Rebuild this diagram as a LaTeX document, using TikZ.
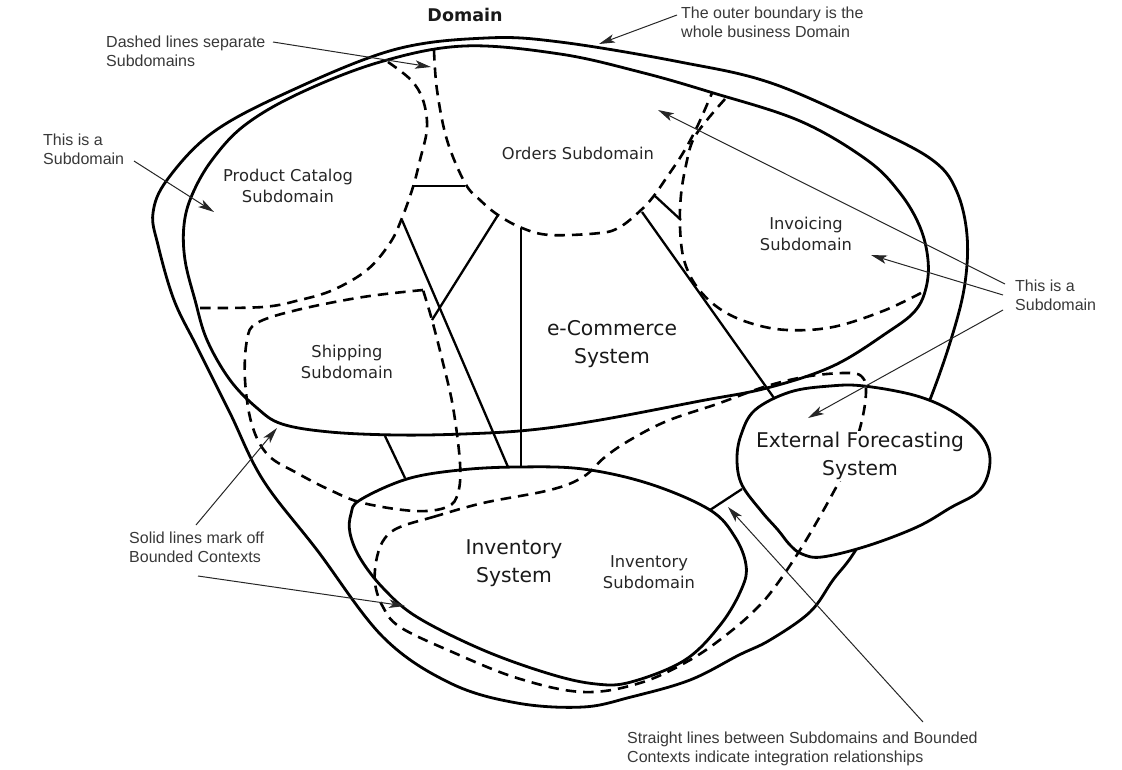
\documentclass[tikz,border=0pt]{standalone}
\usepackage{fontspec}
\setmainfont{Liberation Sans}
\newfontfamily\hand{DejaVu Sans}
\usetikzlibrary{arrows.meta}
\begin{document}
\begin{tikzpicture}[x=1pt,y=-1pt,
  bound/.style={line width=2.8pt,line join=round},
  subline/.style={line width=2.6pt,dash pattern=on 10.5pt off 7pt},
  link/.style={line width=2.3pt},
  note/.style={line width=1pt,black!85,-{Stealth[length=16pt,width=8.5pt,inset=4pt]}},
  lbl/.style={font=\fontsize{16}{19}\selectfont,align=left,anchor=west,inner sep=0pt,text=black!78},
  sdlbl/.style={font=\hand\fontsize{16.3}{21.5}\selectfont,align=center,inner sep=0pt,text=black!85},
  syslbl/.style={font=\hand\fontsize{20.3}{28}\selectfont,align=center,inner sep=0pt,text=black!90}]
\useasboundingbox (0,0) rectangle (1122,769);
% outer domain boundary
\draw[bound] plot[smooth cycle,tension=0.6] coordinates {(393,50) (486,38) (560,42) (680,62) (774,84) (881,132) (935,162) (957,192) (967,235) (965,283) (953,333) (931,397) (900,470) (857,548) (833,580) (810,612) (770,640) (739,655) (690,680) (631,697) (583,707) (517,703) (450,683) (383,637) (317,550) (263,480) (230,413) (197,347) (174,300) (158,245) (153,213) (167,180) (212,133) (286,93)};
% e-commerce bounded context
\draw[bound] plot[smooth cycle,tension=0.6] coordinates {(300,93) (380,62) (464,46) (560,54) (640,72) (710,92) (800,121) (867,160) (900,193) (920,227) (928,260) (926,288) (915,311) (888,332) (833,366) (767,388) (700,401) (600,420) (530,430) (463,434) (397,435) (330,432) (282,424) (257,408) (230,380) (207,340) (195,300) (185,260) (184,225) (192,195) (212,160) (245,125)};
% inventory system
\draw[bound] plot[smooth cycle,tension=0.6] coordinates {(360,500) (407,479) (460,470) (517,467) (583,469) (650,484) (710,510) (735,537) (746,565) (742,588) (721,624) (685,660) (631,682) (596,684) (550,674) (483,650) (417,617) (383,588) (360,558) (350,533) (351,514)};
% external forecasting system
\draw[bound,fill=white] plot[smooth cycle,tension=0.6] coordinates {(830,386) (864,386) (917,396) (955,413) (982,437) (990,462) (980,490) (950,508) (917,527) (867,546) (822,557) (802,554) (790,545) (778,530) (762,512) (742,485) (737,460) (741,435) (755,410) (790,392)};
% subdomain dashed lines
\draw[subline] plot[smooth,tension=0.6] coordinates {(388,62) (411,80) (423,100) (427,128) (420,160) (413,187) (402,218) (390,243) (367,270) (333,290) (300,300) (263,307) (197,308)};
\draw[subline] plot[smooth,tension=0.6] coordinates {(434,50) (437,90) (447,140) (465,183) (480,200) (498,215) (522,228) (550,235) (600,233) (620,227) (640,211) (653,197) (667,177) (683,153) (697,127) (712,93)};
\draw[subline] plot[smooth,tension=0.6] coordinates {(725,99) (707,120) (693,140) (686,165) (681,195) (680,227) (684,260) (697,287) (720,309) (750,323) (787,330) (833,327) (883,311) (921,293)};
\draw[subline] plot[smooth,tension=0.6] coordinates {(423,290) (363,297) (297,310) (257,323) (247,340) (245,380) (252,425) (268,455) (297,473) (330,490) (363,503) (415,511) (447,507) (458,493) (460,463) (453,407) (443,363) (432,320) (423,290)};
\draw[subline] plot[smooth cycle,tension=0.6] coordinates {(400,527) (433,517) (483,503) (550,490) (583,477) (605,457) (630,440) (667,421) (717,404) (767,386) (810,376) (850,373) (863,378) (866,392) (862,420) (850,460) (833,493) (815,525) (800,550) (780,580) (760,605) (730,632) (690,660) (640,683) (583,692) (517,678) (450,651) (400,627) (383,607) (375,583) (377,557) (385,538)};
% integration connectors
\coordinate (pcA) at (413,186); \coordinate (orA) at (465,186);
\coordinate (pcB) at (402,220); \coordinate (invT1) at (508,467);
\coordinate (orB) at (498,215); \coordinate (shB) at (432,320);
\coordinate (orC) at (521,228); \coordinate (invT2) at (521,467);
\coordinate (ecB) at (385,436); \coordinate (invT3) at (405,478);
\coordinate (invR) at (710,510); \coordinate (extL) at (742,489);
\coordinate (orD) at (642,212); \coordinate (extT) at (774,398);
\coordinate (orE) at (655,196); \coordinate (ivL) at (681,220);
\draw[link] (pcA) -- (orA);
\draw[link] (pcB) -- (invT1);
\draw[link] (orB) -- (shB);
\draw[link] (orC) -- (invT2);
\draw[link] (ecB) -- (invT3);
\draw[link] (invR) -- (extL);
\draw[link] (orD) -- (extT);
\draw[link] (orE) -- (ivL);
% labels inside
\node[syslbl,font=\hand\bfseries\fontsize{17.5}{22}\selectfont] (domain) at (465,15) {Domain};
\node[sdlbl] (pc) at (288,186) {Product Catalog\\Subdomain};
\node[sdlbl] (orders) at (578,153) {Orders Subdomain};
\node[sdlbl] (inv) at (806,234) {Invoicing\\Subdomain};
\node[syslbl] (ecom) at (612,344) {e-Commerce\\System};
\node[sdlbl] (ship) at (347,362) {Shipping\\Subdomain};
\node[syslbl] (invsys) at (514,563) {Inventory\\System};
\node[sdlbl] (invsub) at (649,572) {Inventory\\Subdomain};
\node[syslbl,fill=white,inner sep=1pt] (ext) at (860,456) {External Forecasting\\System};
% annotations
\node[lbl] (n1) at (106,51) {Dashed lines separate\\Subdomains};
\node[lbl] (n2) at (681,22) {The outer boundary is the\\whole business Domain};
\node[lbl] (n3) at (43,149) {This is a\\Subdomain};
\node[lbl] (n4) at (1015,295) {This is a\\Subdomain};
\node[lbl] (n5) at (129,547) {Solid lines mark off\\Bounded Contexts};
\node[lbl] (n6) at (627,749) {Straight lines between Subdomains and Bounded\\Contexts indicate integration relationships};
\coordinate (a1s) at (273,42); \coordinate (a1e) at (431,67);
\coordinate (a2s) at (677,15); \coordinate (a2e) at (599,44);
\coordinate (a3s) at (134,161); \coordinate (a3e) at (214,212);
\coordinate (a4s) at (1005,284); \coordinate (a4e) at (658,110);
\coordinate (a5s) at (1003,295); \coordinate (a5e) at (871,255);
\coordinate (a6s) at (1003,310); \coordinate (a6e) at (808,418);
\coordinate (a7s) at (196,525); \coordinate (a7e) at (277,428);
\coordinate (a8s) at (198,576); \coordinate (a8e) at (405,606);
\coordinate (a9s) at (923,722); \coordinate (a9e) at (728,507);
\draw[note] (a1s) -- (a1e);
\draw[note] (a2s) -- (a2e);
\draw[note] (a3s) -- (a3e);
\draw[note] (a4s) -- (a4e);
\draw[note] (a5s) -- (a5e);
\draw[note] (a6s) -- (a6e);
\draw[note] (a7s) -- (a7e);
\draw[note] (a8s) -- (a8e);
\draw[note] (a9s) -- (a9e);
\end{tikzpicture}
\end{document}
